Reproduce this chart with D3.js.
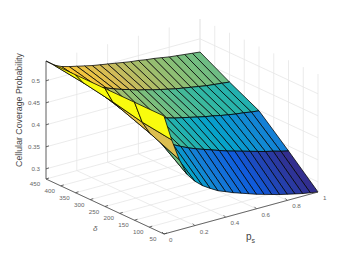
<!DOCTYPE html>
<html><head><meta charset="utf-8">
<script src="https://cdn.jsdelivr.net/npm/d3@7"></script>
<style>html,body{margin:0;padding:0;background:#fff}svg{display:block}text{font-family:"Liberation Sans",sans-serif}</style>
</head><body><svg id="c" width="350" height="263"></svg>
<script>
const psValues=[0,.05,.1,.15,.2,.25,.3,.35,.4,.45,.5,.55,.6,.65,.7,.75,.8,.85,.9,.95,1];
const deltaValues=[450,350,250,150,50];
const z450=[.545,.531,.523,.518,.514,.510,.506,.503,.500,.497,.494,.491,.489,.486,.484,.481,.478,.476,.474,.472,.470];
const z350=[.545,.522,.510,.502,.496,.489,.483,.478,.472,.468,.463,.459,.455,.451,.448,.445,.442,.439,.437,.435,.433];
const z250=[.545,.510,.490,.474,.463,.455,.448,.444,.440,.435,.431,.427,.423,.419,.416,.412,.409,.406,.404,.401,.399];
const z150=[.545,.495,.465,.447,.435,.425,.416,.408,.401,.395,.389,.383,.377,.372,.367,.362,.357,.352,.348,.343,.339];
const z50=[.545,.486,.436,.398,.378,.363,.352,.342,.335,.328,.322,.316,.310,.305,.300,.295,.291,.287,.283,.280,.277];
const zRows=[z450,z350,z250,z150,z50];
const psTicks=[0,.2,.4,.6,.8,1];
const deltaTicks=[50,100,150,200,250,300,350,400,450];
const zTicks=[.3,.35,.4,.45,.5];
const parula=["#352a87","#0f5cdd","#1481d6","#06a4ca","#2eb7a4","#87bf77","#d1bb59","#fec832","#f9fb0e"];

const svg=d3.select("#c");
const psX=d3.scaleLinear([0,1],[0,154]), psY=d3.scaleLinear([0,1],[0,-42]);
const dX=d3.scaleLinear([50,450],[164,46]), dY=d3.scaleLinear([50,450],[234,179]);
const zY=d3.scaleLinear([.277,.545],[0,-118]);
const colT=d3.scaleLinear([.277,.545],[0,1]).clamp(true);
const ramp=d3.piecewise(d3.interpolateRgb,parula);
const P=(p,d,z)=>[dX(d)+psX(p),dY(d)+psY(p)+zY(z)];
const zMin=.277,zMax=.545;
const grid=svg.append("g").attr("stroke","#e6e6e6").attr("stroke-width",.8).attr("fill","none");
const seg=(g,a,b,s)=>{const e=g.append("line").attr("x1",a[0]).attr("y1",a[1]).attr("x2",b[0]).attr("y2",b[1]);if(s)e.attr("stroke",s.c).attr("stroke-width",s.w);return e;};
psTicks.forEach(p=>{seg(grid,P(p,450,zMin),P(p,450,zMax));seg(grid,P(p,50,zMin),P(p,450,zMin));});
deltaTicks.forEach(d=>{seg(grid,P(1,d,zMin),P(1,d,zMax));seg(grid,P(0,d,zMin),P(1,d,zMin));});
zTicks.forEach(z=>{seg(grid,P(0,450,z),P(1,450,z));seg(grid,P(1,450,z),P(1,50,z));});
const q=svg.append("g").attr("stroke","#000").attr("stroke-width",.75).attr("stroke-linejoin","round");
for(let r=0;r<deltaValues.length-1;r++){
 for(let c=psValues.length-2;c>=0;c--){
  const cs=[[r,c],[r,c+1],[r+1,c+1],[r+1,c]];
  const pts=cs.map(([i,j])=>P(psValues[j],deltaValues[i],zRows[i][j]));
  q.append("path").attr("d","M"+pts.map(a=>a.join(",")).join("L")+"Z").attr("fill",ramp(colT(zRows[r+1][c])));
 }
}
const ax={c:"#444",w:.8};
const A=svg.append("g");
seg(A,P(0,450,zMin),P(0,450,zMax),ax);
seg(A,P(0,450,zMin),P(0,50,zMin),ax);
seg(A,P(0,50,zMin),P(1,50,zMin),ax);
const L=svg.append("g").attr("fill","#666").attr("font-size",6.2);
zTicks.forEach(z=>{const a=P(0,450,z);seg(A,a,[a[0]+3,a[1]-1],ax);L.append("text").attr("x",a[0]-6).attr("y",a[1]+2).attr("text-anchor","end").text(String(z));});
deltaTicks.forEach(d=>{const a=P(0,d,zMin);seg(A,a,[a[0]+3,a[1]-1],ax);L.append("text").attr("x",a[0]-11).attr("y",a[1]+7).attr("text-anchor","middle").text(d);});
psTicks.forEach(p=>{const a=P(p,50,zMin);seg(A,a,[a[0]-2,a[1]-2],ax);L.append("text").attr("x",a[0]+5).attr("y",a[1]+8).attr("text-anchor","start").text(p);});
svg.append("text").attr("transform","translate(22,110) rotate(-90)").attr("text-anchor","middle").attr("font-size",8.8).attr("fill","#444").text("Cellular Coverage Probability");
svg.append("text").attr("x",93).attr("y",231).attr("font-size",8).attr("font-style","italic").attr("fill","#666").text("δ");
const ps=svg.append("text").attr("x",246).attr("y",240).attr("font-size",10).attr("fill","#444").text("p");
ps.append("tspan").attr("dy",2.5).attr("font-size",7).text("s");
</script></body></html>
